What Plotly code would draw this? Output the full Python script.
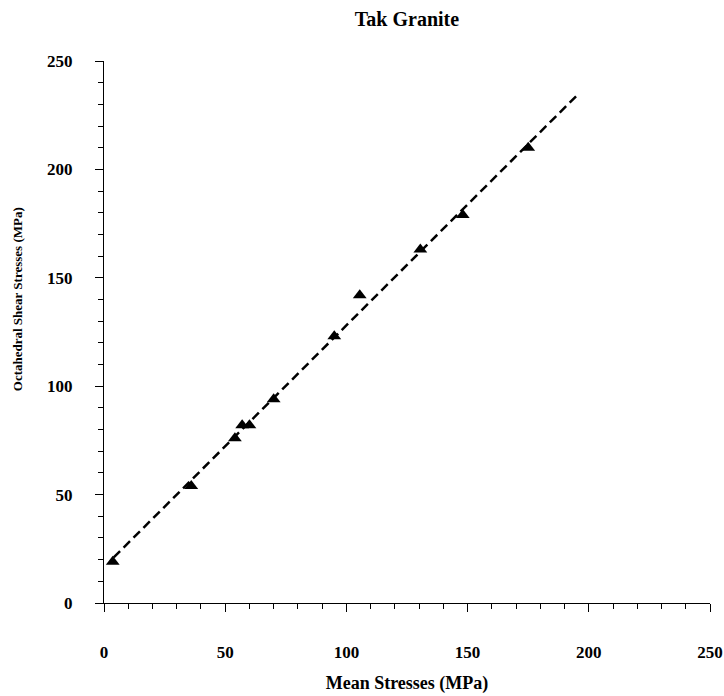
import plotly.graph_objects as go

# Measured stress states (MPa)
mean_stress = [3.6, 36, 54, 57, 60, 70, 95, 105.5, 130.5, 148, 175]
oct_shear = [19, 54, 76, 82, 82, 94, 123, 142, 163, 179, 210]

# Fitted failure envelope endpoints (MPa)
fit_x = [4, 195]
fit_y = [21, 234]

axis_ticks = [0, 50, 100, 150, 200, 250]

FONT = "Liberation Serif"

fig = go.Figure()

fig.add_trace(go.Scatter(
    x=fit_x, y=fit_y, mode="lines",
    line=dict(color="black", width=2.5, dash="9px,5px"),
    showlegend=False, hoverinfo="skip",
))

fig.add_trace(go.Scatter(
    x=mean_stress, y=oct_shear, mode="markers",
    marker=dict(symbol="triangle-up", size=12, color="black"),
    showlegend=False,
))

axis_common = dict(
    range=[0, 250],
    tickvals=axis_ticks,
    ticks="outside", ticklen=8, tickwidth=1.2, tickcolor="black",
    showline=True, linecolor="black", linewidth=1.2,
    showgrid=False, zeroline=False, automargin=False,
    tickfont=dict(family=FONT, size=17, color="black", weight="bold"),
    minor=dict(dtick=10, ticks="outside", ticklen=5, tickwidth=1, tickcolor="black"),
)

fig.update_xaxes(**axis_common, ticklabelstandoff=25,
                 title=dict(text="Mean Stresses (MPa)", standoff=15,
                            font=dict(family=FONT, size=18, color="black", weight="bold")))
fig.update_yaxes(**axis_common, ticklabelstandoff=19)

fig.add_annotation(
    text="Octahedral Shear Stresses (MPa)",
    xref="paper", yref="paper", x=-0.158, y=0.56,
    textangle=-90, showarrow=False,
    font=dict(family=FONT, size=13, color="black", weight="bold"),
)

fig.update_layout(
    width=724, height=696,
    margin=dict(l=104, r=14, t=61, b=93),
    paper_bgcolor="white", plot_bgcolor="white",
    title=dict(text="Tak Granite", x=0.5, xref="paper", y=0.972, yanchor="middle",
               font=dict(family=FONT, size=20, color="black", weight="bold")),
)

fig.write_html("out.html")
